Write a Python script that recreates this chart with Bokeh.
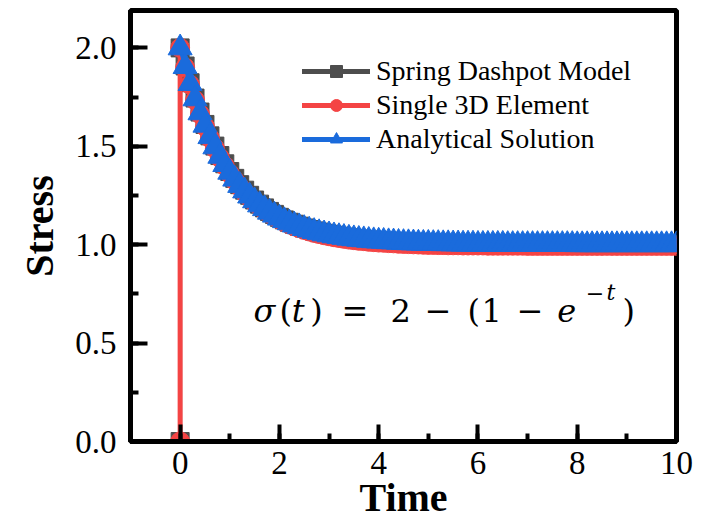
from bokeh.plotting import figure
from bokeh.models import (Range1d, SingleIntervalTicker, Legend, LegendItem, Label,
                          PrintfTickFormatter)
from bokeh.embed import file_html
from bokeh.resources import INLINE

# ---------------- data ----------------
TIME = [
    0.0, 0.1, 0.2, 0.3, 0.4, 0.5, 0.6, 0.7, 0.8, 0.9,
    1.0, 1.1, 1.2, 1.3, 1.4, 1.5, 1.6, 1.7, 1.8, 1.9,
    2.0, 2.1, 2.2, 2.3, 2.4, 2.5, 2.6, 2.7, 2.8, 2.9,
    3.0, 3.1, 3.2, 3.3, 3.4, 3.5, 3.6, 3.7, 3.8, 3.9,
    4.0, 4.1, 4.2, 4.3, 4.4, 4.5, 4.6, 4.7, 4.8, 4.9,
    5.0, 5.1, 5.2, 5.3, 5.4, 5.5, 5.6, 5.7, 5.8, 5.9,
    6.0, 6.1, 6.2, 6.3, 6.4, 6.5, 6.6, 6.7, 6.8, 6.9,
    7.0, 7.1, 7.2, 7.3, 7.4, 7.5, 7.6, 7.7, 7.8, 7.9,
    8.0, 8.1, 8.2, 8.3, 8.4, 8.5, 8.6, 8.7, 8.8, 8.9,
    9.0, 9.1, 9.2, 9.3, 9.4, 9.5, 9.6, 9.7, 9.8, 9.9,
    10.0,
]

STRESS_ANALYTICAL = [
    2.000, 1.905, 1.819, 1.741, 1.670, 1.607, 1.549, 1.497, 1.449, 1.407,
    1.368, 1.333, 1.301, 1.273, 1.247, 1.223, 1.202, 1.183, 1.165, 1.150,
    1.135, 1.122, 1.111, 1.100, 1.091, 1.082, 1.074, 1.067, 1.061, 1.055,
    1.050, 1.045, 1.041, 1.037, 1.033, 1.030, 1.027, 1.025, 1.022, 1.020,
    1.018, 1.017, 1.015, 1.014, 1.012, 1.011, 1.010, 1.009, 1.008, 1.007,
    1.007, 1.006, 1.006, 1.005, 1.005, 1.004, 1.004, 1.003, 1.003, 1.003,
    1.002, 1.002, 1.002, 1.002, 1.002, 1.002, 1.001, 1.001, 1.001, 1.001,
    1.001, 1.001, 1.001, 1.001, 1.001, 1.001, 1.001, 1.001, 1.001, 1.001,
    1.000, 1.000, 1.000, 1.000, 1.000, 1.000, 1.000, 1.000, 1.000, 1.000,
    1.000, 1.000, 1.000, 1.000, 1.000, 1.000, 1.000, 1.000, 1.000, 1.000,
    1.000,
]

# the two numerical models start from the unloaded state (0, 0)
STRESS_SINGLE_3D = [0.000] + [
    2.000, 1.900, 1.813, 1.734, 1.663, 1.600, 1.542, 1.490, 1.442, 1.400,
    1.361, 1.326, 1.294, 1.266, 1.240, 1.216, 1.195, 1.176, 1.158, 1.143,
    1.128, 1.115, 1.104, 1.093, 1.084, 1.075, 1.067, 1.060, 1.054, 1.048,
    1.043, 1.038, 1.034, 1.030, 1.026, 1.023, 1.020, 1.018, 1.015, 1.013,
    1.011, 1.010, 1.008, 1.007, 1.005, 1.004, 1.003, 1.002, 1.001, 1.000,
    0.999, 0.999, 0.998, 0.998, 0.997, 0.997, 0.997, 0.996, 0.996, 0.996,
    0.996, 0.996, 0.995, 0.995, 0.995, 0.995, 0.995, 0.995, 0.995, 0.995,
    0.994, 0.994, 0.994, 0.994, 0.994, 0.994, 0.994, 0.994, 0.994, 0.994,
    0.994, 0.994, 0.994, 0.994, 0.994, 0.994, 0.994, 0.994, 0.994, 0.994,
    0.994, 0.994, 0.994, 0.994, 0.994, 0.994, 0.994, 0.994, 0.994, 0.994,
    0.994,
]

STRESS_SPRING = [0.000] + [
    2.000, 1.908, 1.823, 1.745, 1.674, 1.611, 1.553, 1.501, 1.453, 1.411,
    1.372, 1.337, 1.305, 1.277, 1.251, 1.227, 1.206, 1.187, 1.169, 1.154,
    1.139, 1.126, 1.114, 1.104, 1.094, 1.085, 1.077, 1.070, 1.064, 1.058,
    1.053, 1.048, 1.043, 1.039, 1.035, 1.032, 1.029, 1.027, 1.024, 1.022,
    1.020, 1.018, 1.017, 1.015, 1.014, 1.012, 1.011, 1.010, 1.009, 1.008,
    1.008, 1.007, 1.007, 1.006, 1.006, 1.005, 1.005, 1.004, 1.004, 1.004,
    1.003, 1.003, 1.003, 1.003, 1.003, 1.003, 1.002, 1.002, 1.002, 1.002,
    1.002, 1.002, 1.002, 1.002, 1.002, 1.002, 1.002, 1.002, 1.002, 1.002,
    1.001, 1.001, 1.001, 1.001, 1.001, 1.001, 1.001, 1.001, 1.001, 1.001,
    1.001, 1.001, 1.001, 1.001, 1.001, 1.001, 1.001, 1.001, 1.001, 1.001,
    1.001,
]
TIME_MODEL = [0.0] + TIME

SERIES_LABELS = ["Spring Dashpot Model", "Single 3D Element", "Analytical Solution"]
X_TICK_INTERVAL = 2
Y_TICK_INTERVAL = 0.5

# ---------------- styling ----------------
GRAY = "#4d4d4d"
RED = "#f44444"
BLUE = "#1a6bdc"
SERIF = "Liberation Serif"
MATH = "DejaVu Serif"

p = figure(width=710, height=522, output_backend="svg", toolbar_location=None,
           x_range=Range1d(-1, 10), y_range=Range1d(0, 2.19),
           min_border_left=130, min_border_right=34, min_border_top=10,
           min_border_bottom=81)
p.grid.visible = False
p.outline_line_color = "black"
p.outline_line_width = 5
p.background_fill_color = "white"
p.border_fill_color = "white"

# series
p.line(TIME_MODEL, STRESS_SPRING, line_color=GRAY, line_width=4)
p.scatter(TIME_MODEL, STRESS_SPRING, marker="square", size=18,
          fill_color=GRAY, line_color=GRAY)
p.line(TIME_MODEL, STRESS_SINGLE_3D, line_color=RED, line_width=5)
p.scatter(TIME_MODEL, STRESS_SINGLE_3D, marker="circle", size=19,
          fill_color=RED, line_color=RED)
p.line(TIME, STRESS_ANALYTICAL, line_color=BLUE, line_width=4)
p.scatter(TIME, STRESS_ANALYTICAL, marker="triangle", size=24,
          fill_color=BLUE, line_color=BLUE)

# legend (legend-only renderers with smaller markers)
nan = [float("nan")]
items = []
for lab, col, mk in zip(SERIES_LABELS, [GRAY, RED, BLUE],
                        ["square", "circle", "triangle"]):
    lr = p.line(nan, nan, line_color=col, line_width=5, line_cap="round")
    sr = p.scatter(nan, nan, marker=mk, size=17, fill_color=col, line_color=col)
    items.append(LegendItem(label=lab, renderers=[lr, sr]))
legend = Legend(items=items, location=(172, 286), orientation="vertical",
                border_line_color=None, background_fill_alpha=0,
                padding=0, margin=0, spacing=2,
                glyph_width=68, glyph_height=30, label_height=30,
                label_standoff=6,
                label_text_font=SERIF, label_text_font_size="28px",
                label_text_color="black", label_text_baseline="middle")
p.add_layout(legend, "center")

# axes
for ax in (p.xaxis[0], p.yaxis[0]):
    ax.axis_line_width = 5
    ax.axis_line_color = "black"
    ax.major_tick_in = 17
    ax.major_tick_out = 0
    ax.minor_tick_in = 8
    ax.minor_tick_out = 0
    ax.major_tick_line_width = 4
    ax.minor_tick_line_width = 4
    ax.major_tick_line_color = "black"
    ax.minor_tick_line_color = "black"
    ax.major_label_text_font = SERIF
    ax.major_label_text_font_size = "33px"
    ax.major_label_text_color = "black"
    ax.axis_label_text_font = SERIF
    ax.axis_label_text_font_style = "bold"
    ax.axis_label_text_font_size = "40px"
    ax.axis_label_text_color = "black"

p.xaxis[0].ticker = SingleIntervalTicker(interval=X_TICK_INTERVAL, num_minor_ticks=2)
p.yaxis[0].ticker = SingleIntervalTicker(interval=Y_TICK_INTERVAL, num_minor_ticks=2)
p.yaxis[0].formatter = PrintfTickFormatter(format="%.1f")
p.xaxis[0].axis_label = "Time"
p.yaxis[0].axis_label = "Stress"
p.xaxis[0].major_label_standoff = 10
p.xaxis[0].axis_label_standoff = -2
p.yaxis[0].major_label_standoff = 14
p.yaxis[0].axis_label_standoff = 10

# equation  sigma(t) = 2 - (1 - e^{-t})
EQ_SIZE = "32px"
EQ_Y = 0.665
tokens = [
    ("σ", 1.48, "italic"), ("(", 2.00, "normal"), ("t", 2.25, "italic"),
    (")", 2.62, "normal"), ("=", 3.25, "normal"), ("2", 4.24, "normal"),
    ("−", 4.93, "normal"), ("(", 5.79, "normal"), ("1", 6.07, "normal"),
    ("−", 6.78, "normal"), ("e", 7.60, "italic"), (")", 8.91, "normal"),
]
for txt, xx, style in tokens:
    p.add_layout(Label(x=xx, y=EQ_Y, text=txt, text_font=MATH,
                       text_font_size=EQ_SIZE, text_font_style=style,
                       text_color="black", text_baseline="alphabetic"))
p.add_layout(Label(x=8.17, y=EQ_Y + 0.09, text="−", text_font=MATH,
                   text_font_size="22px", text_color="black",
                   text_baseline="alphabetic"))
p.add_layout(Label(x=8.59, y=EQ_Y + 0.09, text="t", text_font=MATH,
                   text_font_size="22px", text_font_style="italic",
                   text_color="black", text_baseline="alphabetic"))

open("out.html", "w").write(file_html(p, INLINE))
